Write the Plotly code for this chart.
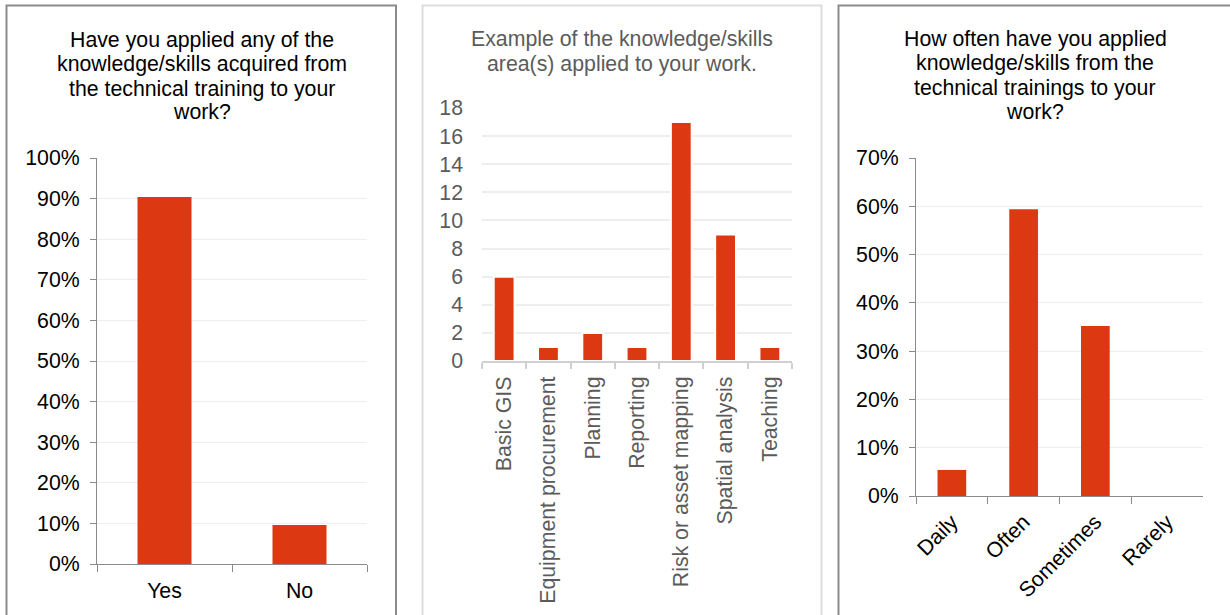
import plotly.graph_objects as go

W, H = 1230, 615

# Panel 1: applied any knowledge/skills (share of respondents)
applied_cats = ["Yes", "No"]
applied_share = [0.904, 0.096]

# Panel 2: knowledge/skills areas applied (counts)
area_cats = ["Basic GIS", "Equipment procurement", "Planning", "Reporting",
             "Risk or asset mapping", "Spatial analysis", "Teaching"]
area_counts = [6, 1, 2, 1, 17, 9, 1]

# Panel 3: frequency of application (share of respondents)
freq_cats = ["Daily", "Often", "Sometimes", "Rarely"]
freq_share = [0.054, 0.594, 0.352, 0.0]

BAR = "#dc3912"
FONT = "Liberation Sans, Arial, sans-serif"
FS = 21.3
GREY_TXT = "#5b5b5b"


def px_x(p):
    return p / W


def px_y(p):
    return 1 - p / H


fig = go.Figure()
fig.add_trace(go.Bar(x=applied_cats, y=applied_share, marker_color=BAR,
                     width=0.4, xaxis="x", yaxis="y", showlegend=False))
fig.add_trace(go.Bar(x=area_cats, y=area_counts, marker_color=BAR,
                     marker_line=dict(color="white", width=2),
                     width=0.47, xaxis="x2", yaxis="y2", showlegend=False))
fig.add_trace(go.Bar(x=freq_cats, y=freq_share, marker_color=BAR,
                     width=0.4, xaxis="x3", yaxis="y3", showlegend=False))

dark_axis = "#8a8a8a"
grid = "#eeeeee"

fig.update_layout(
    template="none",
    width=W, height=H, autosize=False,
    margin=dict(l=0, r=0, t=0, b=0, pad=0),
    paper_bgcolor="white", plot_bgcolor="white",
    font=dict(family=FONT, size=FS, color="#000000"),
    xaxis=dict(domain=[px_x(97), px_x(367)], anchor="y", type="category",
               automargin=False,
               showline=True, linecolor=dark_axis, linewidth=1,
               ticks="outside", tickson="boundaries", ticklen=7,
               tickcolor=dark_axis, showgrid=False, ticklabelstandoff=7,
               tickfont=dict(size=FS, color="#000000")),
    yaxis=dict(domain=[px_y(564), px_y(158)], anchor="x", range=[0, 1.0],
               automargin=False,
               dtick=0.1, tickformat=".0%", showline=True,
               linecolor=dark_axis, ticks="outside", ticklen=6,
               tickcolor=dark_axis, gridcolor=grid, zeroline=False,
               ticklabelstandoff=6,
               tickfont=dict(size=FS, color="#000000")),
    xaxis2=dict(domain=[px_x(482), px_x(792)], anchor="y2", type="category",
                automargin=False,
                showline=True, linecolor="#d0d0d0", linewidth=2,
                ticks="outside", tickson="boundaries", ticklen=6,
                tickcolor="#d0d0d0", tickwidth=2, showgrid=False,
                tickangle=-90, ticklabelstandoff=5,
                tickfont=dict(size=FS, color=GREY_TXT)),
    yaxis2=dict(domain=[px_y(361), px_y(108)], anchor="x2", range=[0, 18],
                automargin=False,
                dtick=2, showline=False, ticks="", gridcolor=grid,
                gridwidth=2, zeroline=False, ticklabelstandoff=18,
                tickfont=dict(size=FS, color=GREY_TXT)),
    xaxis3=dict(domain=[px_x(916), px_x(1203)], anchor="y3", type="category",
                automargin=False,
                showline=True, linecolor=dark_axis, linewidth=1,
                ticks="outside", tickson="boundaries", ticklen=7,
                tickcolor=dark_axis, showgrid=False, tickangle=-45,
                ticklabelstandoff=4,
                tickfont=dict(size=FS, color="#000000")),
    yaxis3=dict(domain=[px_y(496), px_y(158)], anchor="x3", range=[0, 0.7],
                automargin=False,
                dtick=0.1, tickformat=".0%", showline=True,
                linecolor=dark_axis, ticks="outside", ticklen=6,
                tickcolor=dark_axis, gridcolor=grid, zeroline=False,
                ticklabelstandoff=6,
                tickfont=dict(size=FS, color="#000000")),
)

# Panel frames
frames = [
    dict(x0=6.5, x1=396, color="#8c8c8c", w=2),
    dict(x0=422.5, x1=821.5, color="#dddddd", w=2),
    dict(x0=838.5, x1=1240, color="#8c8c8c", w=2),
]
for f in frames:
    fig.add_shape(type="rect", xref="paper", yref="paper",
                  x0=px_x(f["x0"]), x1=px_x(f["x1"]),
                  y0=px_y(640), y1=px_y(5.5),
                  line=dict(color=f["color"], width=f["w"]),
                  fillcolor="rgba(0,0,0,0)", layer="below")

# Panel titles, one annotation per line for tight line spacing
titles = [
    (201.5, [40, 64, 88.5, 112.5],
     ["Have you applied any of the", "knowledge/skills acquired from",
      "the technical training to your", "work?"], "#000000"),
    (622, [39.5, 63.5],
     ["Example of the knowledge/skills", "area(s) applied to your work."],
     GREY_TXT),
    (1035, [39, 63, 88, 112],
     ["How often have you applied", "knowledge/skills from the",
      "technical trainings to your", "work?"], "#000000"),
]
for cx, ys, lines, col in titles:
    for cy, line in zip(ys, lines):
        fig.add_annotation(x=px_x(cx), y=px_y(cy), xref="paper", yref="paper",
                           text=line, showarrow=False, xanchor="center",
                           yanchor="middle", align="center",
                           font=dict(family=FONT, size=FS, color=col))

fig.write_html("out.html")
